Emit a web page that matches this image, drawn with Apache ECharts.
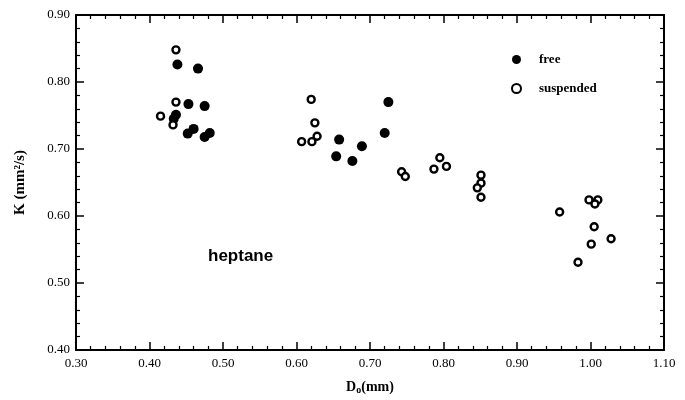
<!DOCTYPE html>
<html>
<head>
<meta charset="utf-8">
<script src="https://cdn.jsdelivr.net/npm/echarts@6/dist/echarts.min.js"></script>
<style>
  html, body { margin: 0; padding: 0; background: #fff; }
  #box { width: 685px; height: 400px; }
</style>
</head>
<body>
<div id="box"></div>
<script>
// heptane droplets, burning rate K vs initial diameter
var freeD = [0.438, 0.466, 0.453, 0.475, 0.436, 0.433, 0.452, 0.460, 0.475, 0.482,
             0.658, 0.654, 0.689, 0.676, 0.720, 0.725]
var freeK = [0.826, 0.820, 0.767, 0.764, 0.751, 0.745, 0.723, 0.730, 0.718, 0.724,
             0.714, 0.689, 0.704, 0.682, 0.724, 0.770]
var suspD = [0.436, 0.436, 0.415, 0.432,
             0.620, 0.625, 0.628, 0.607, 0.621, 0.743, 0.748,
             0.795, 0.787, 0.804, 0.851, 0.851, 0.846, 0.851,
             0.958, 0.998, 1.010, 1.006, 1.005, 1.028, 1.001, 0.983]
var suspK = [0.848, 0.770, 0.749, 0.736,
             0.774, 0.739, 0.719, 0.711, 0.711, 0.666, 0.659,
             0.687, 0.670, 0.674, 0.661, 0.649, 0.642, 0.628,
             0.606, 0.624, 0.624, 0.618, 0.584, 0.566, 0.558, 0.531]

var serif = '"Liberation Serif", "DejaVu Serif", serif'

var Chart = echarts.init(document.getElementById('box'))

function pairs(xs, ys) {
    return xs.map((x, i) => [x, ys[i]])
}

var frameLine = { show: true, onZero: false, lineStyle: { color: '#000', width: 2 } }
var majorTick = { show: true, inside: true, length: 8, lineStyle: { color: '#000', width: 1.5 } }
var minorTick = { show: true, splitNumber: 5, length: 4, lineStyle: { color: '#000', width: 1.2 } }

var option = {
    animation: false,
    grid: { left: 76, right: 21, top: 15, bottom: 46 },
    legend: {
        left: 506,
        top: 48,
        orient: 'vertical',
        itemWidth: 9,
        itemHeight: 9,
        itemGap: 16,
        textStyle: { fontFamily: serif, fontWeight: 'bold', fontSize: 13, color: '#000', padding: [0, 0, 0, 13] },
        data: ['free', { name: 'suspended', itemStyle: { borderWidth: 2 } }]
    },
    xAxis: [{
        type: 'value', min: 0.3, max: 1.1, interval: 0.1,
        axisLine: frameLine, axisTick: majorTick, minorTick: minorTick,
        splitLine: { show: false },
        axisLabel: { color: '#000', fontFamily: serif, fontSize: 13, margin: 7,
            formatter: v => v.toFixed(2) },
        name: '{a|D}{s|o}{a|(mm)}',
        nameLocation: 'middle',
        nameGap: 29,
        nameTextStyle: {
            rich: {
                a: { fontFamily: serif, fontWeight: 'bold', fontSize: 14, color: '#000' },
                s: { fontFamily: serif, fontWeight: 'bold', fontSize: 10, color: '#000', verticalAlign: 'bottom', padding: [6, 0, 0, 0] }
            }
        }
    }, {
        type: 'value', min: 0.3, max: 1.1, interval: 0.1, position: 'top',
        axisLine: frameLine, axisTick: majorTick, minorTick: minorTick,
        splitLine: { show: false }, axisLabel: { show: false }
    }],
    yAxis: [{
        type: 'value', min: 0.4, max: 0.9, interval: 0.1,
        axisLine: frameLine, axisTick: majorTick, minorTick: minorTick,
        splitLine: { show: false },
        axisLabel: { color: '#000', fontFamily: serif, fontSize: 13, margin: 6,
            formatter: v => v.toFixed(2) },
        name: 'K (mm²/s)',
        nameLocation: 'middle',
        nameGap: 48,
        nameTextStyle: { fontFamily: serif, fontWeight: 'bold', fontSize: 15, color: '#000' }
    }, {
        type: 'value', min: 0.4, max: 0.9, interval: 0.1, position: 'right',
        axisLine: frameLine, axisTick: majorTick, minorTick: minorTick,
        splitLine: { show: false }, axisLabel: { show: false }
    }],
    graphic: [{
        type: 'text', left: 208, top: 248,
        style: { text: 'heptane', font: 'bold 17px "Liberation Sans", Arial, sans-serif', fill: '#000' }
    }],
    series: [{
        name: 'free',
        type: 'scatter',
        symbol: 'circle',
        symbolSize: 10,
        itemStyle: { color: '#000', opacity: 1 },
        data: pairs(freeD, freeK)
    }, {
        name: 'suspended',
        type: 'scatter',
        symbol: 'circle',
        symbolSize: 7,
        itemStyle: { color: '#fff', borderColor: '#000', borderWidth: 2.4, opacity: 1 },
        data: pairs(suspD, suspK)
    }]
}

Chart.setOption(option)
</script>
</body>
</html>
